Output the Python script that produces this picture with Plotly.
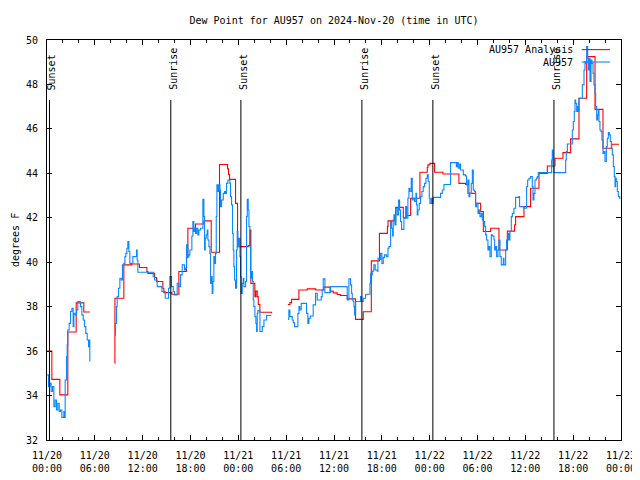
import pandas as pd
import plotly.graph_objects as go

BASE = pd.Timestamp("2024-11-20 00:00")

# ---- AU957 observations (hours after 11/20 00:00 UTC, dew point F), 3 segments ----
obs_h1 = [0.02, 0.19, 0.36, 0.52, 0.69, 0.86, 1.02, 1.19, 1.36, 1.53, 1.69, 1.86, 2.11, 2.20, 2.28,
          2.45, 2.53, 2.61, 2.78, 2.95, 3.12, 3.28, 3.37, 3.53, 3.70, 3.87, 4.04, 4.20, 4.37, 4.54,
          4.70, 4.87, 5.04, 5.21, 5.29, 5.37]
obs_v1 = [34.93, 34.40, 34.55, 34.18, 34.40, 33.50, 33.80, 33.35, 33.65, 33.28, 33.35, 33.02, 33.28, 33.02, 34.70,
          35.75, 36.28, 36.95, 37.25, 37.78, 37.93, 37.10, 37.70, 37.63, 37.85, 38.23, 38.23, 38.00, 37.63, 37.40,
          37.10, 36.80, 36.50, 36.20, 36.50, 35.53]

obs_h2 = [8.51, 8.59, 8.72, 8.80, 8.97, 9.14, 9.31, 9.47, 9.64, 9.77, 9.89, 10.02, 10.14, 10.27, 10.39,
          10.64, 10.77, 11.19, 11.23, 11.31, 11.40, 13.15, 13.32, 13.49, 13.66, 13.82, 14.32, 14.41, 14.74, 14.83,
          15.16, 15.24, 15.41,
          15.62, 15.83, 16.00, 16.25, 16.33, 16.54, 16.75, 16.96, 17.17, 17.25, 17.38, 17.50, 17.67, 17.80, 17.92,
          18.09, 18.17, 18.30, 18.42, 18.50, 18.63, 18.76, 18.92, 19.05, 19.26, 19.47, 19.55, 19.68, 19.76, 19.85,
          19.97, 20.10, 20.18, 20.31, 20.43, 20.52, 20.64, 20.72, 20.81, 20.93, 21.06, 21.14, 21.23, 21.31, 21.44,
          21.56, 21.69, 21.77, 21.90, 21.98, 22.11, 22.27, 22.40, 22.52, 22.69, 22.82, 22.94, 23.02, 23.15, 23.27,
          23.36, 23.44, 23.53, 23.65, 23.78, 23.86, 23.94, 24.07, 24.20, 24.28, 24.36, 24.49, 24.61, 24.70, 24.91,
          25.03, 25.12, 25.24, 25.33, 25.45, 25.53, 25.66, 25.78, 25.87, 25.95, 26.08, 26.20, 26.29, 26.37, 26.45,
          26.58, 26.71, 26.87, 27.00, 27.21, 27.54, 28.13]
obs_v2 = [36.73, 37.25, 38.00, 38.45, 38.83, 39.28, 39.20, 39.88, 39.95, 40.25, 40.40, 40.63, 40.93, 40.48, 39.95,
          39.95, 40.25, 40.25, 40.55, 40.10, 39.55, 39.55, 39.35, 39.20, 39.20, 38.90, 38.90, 38.68, 38.68, 38.38,
          38.38, 38.83, 39.35,
          38.90, 38.68, 38.53, 38.53, 39.05, 38.90, 39.43, 39.88, 39.88, 39.65, 39.73, 40.78, 40.25, 40.33, 40.55,
          40.55, 41.18, 41.83, 41.38, 41.53, 41.30, 41.53, 41.23, 41.45, 41.53, 41.53, 42.83, 42.05, 40.55, 41.08,
          41.23, 41.45, 41.00, 40.70, 40.40, 39.05, 39.35, 38.60, 39.13, 40.25, 39.95, 40.40, 42.05, 43.48, 43.18,
          43.48, 43.25, 42.50, 42.80, 42.80, 43.10, 43.18, 43.10, 43.55, 43.70, 43.70, 43.55, 42.95, 42.58, 41.30,
          40.55, 39.80, 39.20, 38.83, 40.55, 41.38, 40.70, 41.08, 40.25, 39.35, 38.60, 39.05, 39.28, 38.90, 39.13,
          42.05, 42.83, 42.35, 41.60, 40.70, 39.28, 39.58, 39.13, 38.30, 38.00, 37.55, 37.25, 36.88, 37.70, 37.82,
          37.82, 36.88, 36.88, 37.10, 37.40, 37.60, 37.60]

obs_h3 = [30.22, 30.34, 30.47, 30.76, 30.89, 31.05, 31.30, 31.47, 31.60, 31.72, 31.89, 32.43, 32.56, 32.72, 32.85,
          33.06, 33.39, 33.56, 33.69, 33.90, 34.23, 34.40, 34.52, 34.65, 34.86, 35.49, 35.57, 37.58, 37.66, 37.79,
          37.87, 38.08, 38.21, 38.29, 38.41, 38.50, 38.58, 38.71, 39.25, 39.33, 39.46, 39.67, 39.96, 40.38, 40.51,
          40.59, 40.71, 40.80, 40.92, 41.00, 41.17, 41.42, 41.51, 41.68, 41.85, 42.01, 42.18, 42.35, 42.60, 42.77,
          42.89,
          43.10, 43.22, 43.35, 43.43, 43.52, 43.64, 43.77, 43.94, 44.10, 44.23, 44.35, 44.48, 44.65, 44.77, 44.98,
          45.11, 45.27, 45.40, 45.52, 45.69, 45.82, 45.94, 46.11, 46.28, 46.36, 46.44, 46.53, 46.69, 46.86, 47.03,
          47.19, 47.36, 47.53, 47.70, 47.82, 47.95, 48.03, 48.20, 48.33, 48.45, 49.29, 49.37, 49.58, 49.79, 50.54,
          50.62, 51.25, 51.34, 51.46, 51.59, 51.76, 51.88, 52.09, 52.22, 52.51, 52.63, 52.80, 52.93, 53.05, 53.22,
          53.35, 53.47, 53.64, 53.76, 53.89, 54.06, 54.18, 54.31, 54.48, 54.60, 54.73, 54.90, 55.02, 55.14, 55.31,
          55.44, 55.56, 55.73, 55.86, 56.07, 56.15, 56.28, 56.40, 56.57, 56.69, 56.82, 56.98, 57.24, 57.32, 57.53,
          57.65, 57.82, 57.95, 58.07, 58.24, 58.37, 58.57, 58.78,
          59.20, 59.28, 59.83, 60.04, 60.16, 60.29, 60.46, 60.66, 60.87, 60.96, 61.08, 61.21, 61.38, 61.50, 61.63,
          63.30, 63.38, 63.47, 63.59, 65.06, 65.14, 65.27, 65.47, 65.89, 66.02, 66.14, 66.23, 66.31, 66.44, 66.56,
          66.65, 66.73, 66.94, 67.15, 67.36, 67.48, 67.57, 67.69, 67.82, 67.90, 67.98, 68.11, 68.24, 68.36, 68.49,
          68.61, 68.74, 68.82, 68.95, 69.07, 69.16, 69.24, 69.36, 69.49, 69.61, 69.74, 69.87, 69.99, 70.16, 70.28,
          70.41, 70.54, 70.66, 70.79, 70.91, 71.04, 71.16, 71.25, 71.33, 71.41, 71.54, 71.67, 71.83, 71.96]
obs_v3 = [37.43, 37.85, 37.55, 37.40, 37.28, 37.10, 37.10, 37.70, 38.00, 37.85, 38.15, 38.15, 37.70, 37.25, 37.48,
          37.58, 38.08, 38.08, 38.60, 38.30, 38.30, 38.45, 38.75, 39.25, 38.63, 38.63, 38.90, 38.90, 38.30, 38.30,
          39.25, 38.98, 38.60, 38.30, 38.23, 38.00, 37.63, 38.23, 38.23, 38.45, 38.23, 38.38, 38.56, 38.56, 39.05,
          39.50, 39.43, 39.58, 39.65, 39.88, 39.65, 39.60, 40.18, 40.13, 40.40, 39.95, 40.22, 40.33, 40.25, 40.63,
          40.70,
          41.83, 41.53, 41.18, 41.90, 42.13, 41.68, 42.43, 42.13, 42.80, 42.35, 41.83, 41.48, 41.48, 41.98, 42.50,
          41.98, 42.88, 43.33, 43.18, 43.78, 42.80, 42.88, 42.73, 43.10, 42.58, 42.13, 42.35, 42.65, 42.95, 43.18,
          43.40, 43.55, 43.78, 43.93, 43.63, 42.88, 42.65, 42.88, 42.65, 42.92, 42.92, 43.10, 43.25, 43.50, 43.50,
          44.48, 44.48, 44.30, 44.48, 44.23, 44.42, 44.15, 44.15, 43.93, 43.88, 43.48, 43.70, 42.95, 43.10, 43.55,
          44.15, 43.25, 43.18, 42.50, 42.65, 42.20, 42.35, 42.05, 42.20, 41.90, 41.83, 41.60, 41.23, 41.00, 40.55,
          40.70, 40.25, 41.23, 41.18, 41.00, 40.55, 40.70, 40.25, 40.55, 41.00, 40.25, 39.88, 40.18, 39.88, 40.55,
          41.00, 41.30, 41.00, 41.38, 42.05, 42.20, 42.43, 42.92,
          42.95, 42.50, 42.43, 42.43, 43.40, 43.70, 43.78, 43.85, 43.40, 42.80, 43.10, 43.70, 43.78, 43.85, 44.03,
          44.60, 45.05, 44.30, 44.03, 44.60, 44.98, 45.32, 45.32, 45.95, 46.33, 46.78, 47.30, 47.15, 46.78, 47.00,
          46.78, 47.38, 47.38, 47.98, 48.65, 49.03, 48.95, 49.70, 49.18, 48.65, 49.18, 48.13, 49.10, 48.95, 48.50,
          47.98, 47.60, 47.00, 46.40, 46.63, 46.85, 46.33, 45.95, 45.88, 45.50, 44.90, 44.98, 44.53, 45.20, 45.58,
          45.83, 45.73, 45.43, 45.13, 44.83, 44.30, 43.85, 43.40, 43.78, 43.63, 43.18, 42.95, 42.88, 42.88]

# ---- AU957 Analysis (hourly analysis), 3 segments ----
ana_h1 = [0.02, 0.61, 1.61, 2.61, 3.66, 4.62, 5.37]
ana_v1 = [36.00, 34.73, 34.03, 36.86, 38.17, 37.76, 37.76]

ana_h2 = [8.51, 8.52, 9.64, 10.64, 11.60, 12.53, 12.65, 13.49, 13.74, 14.53, 14.66, 15.66, 16.54, 17.50, 17.67,
          18.63, 19.68, 20.60, 21.64, 22.65, 22.77, 22.90, 23.65, 23.90, 25.24, 25.45, 25.57, 26.07, 26.20, 26.37,
          26.50, 26.70, 28.17]
ana_v2 = [35.45, 38.38, 39.88, 39.92, 39.76, 39.58, 39.50, 39.31, 39.13, 38.83, 38.63, 38.56, 39.58, 40.20, 41.53,
          41.72, 41.86, 40.45, 44.40, 44.20, 43.95, 43.73, 42.65, 40.70, 40.75, 41.45, 39.05, 38.45, 38.70, 38.45,
          38.10, 37.75, 37.70]

ana_h3 = [30.22, 30.47, 30.68, 31.60, 32.65, 33.69, 34.73, 35.50, 35.90, 36.40, 36.80, 37.66, 38.70, 39.67, 40.68,
          41.70, 42.70, 42.78, 43.73, 44.69, 44.98, 45.61, 46.78, 47.70, 47.78, 48.03, 48.62, 49.66, 51.67, 52.51,
          52.80, 53.76, 54.39, 54.73, 55.65, 56.69, 57.74, 58.66, 58.78, 59.83, 60.66, 61.71, 62.76, 63.72, 64.72,
          65.68, 66.73, 67.69, 68.74, 69.74, 70.83, 71.75]
ana_v3 = [38.10, 38.18, 38.33, 38.75, 38.80, 38.75, 38.88, 38.70, 38.62, 38.55, 38.50, 38.35, 37.43, 37.77, 40.06,
          41.30, 41.60, 41.86, 42.47, 42.00, 42.10, 42.88, 44.05, 44.26, 44.38, 44.45, 44.05, 43.97, 43.55, 43.50,
          43.10, 42.65, 42.28, 41.38, 41.53, 40.55, 41.40, 41.68, 42.05, 42.50, 43.33, 44.00, 44.33, 44.68, 44.93,
          45.55, 47.38, 49.25, 46.88, 45.13, 45.31, 45.31]

# ---- Sun events (hours after 11/20 00:00 UTC) ----
sun_h = [0.31, 15.53, 24.32, 39.50, 48.40, 63.59]
sun_lbl = ["Sunset", "Sunrise", "Sunset", "Sunrise", "Sunset", "Sunrise"]

TITLE = "Dew Point for AU957 on 2024-Nov-20 (time in UTC)"
FONT = "DejaVu Sans Mono"
RED = "#ff0000"
BLUE = "#0a88ff"

# the page body adds an 8px margin; size the figure so the whole chart fits the 640x480 window
W, H = 632, 472


def join(segs):
    xs, ys = [], []
    for h, v in segs:
        assert len(h) == len(v)
        if xs:
            xs.append(None)
            ys.append(None)
        xs.extend(BASE + pd.to_timedelta(x, unit="h") for x in h)
        ys.extend(v)
    return xs, ys


ax, ay = join([(ana_h1, ana_v1), (ana_h2, ana_v2), (ana_h3, ana_v3)])
ox, oy = join([(obs_h1, obs_v1), (obs_h2, obs_v2), (obs_h3, obs_v3)])

fig = go.Figure()
fig.add_trace(go.Scatter(x=ax, y=ay, mode="lines", line=dict(color=RED, width=1.1, shape="hv"),
                         connectgaps=False, name="AU957 Analysis", showlegend=False))
fig.add_trace(go.Scatter(x=ox, y=oy, mode="lines", line=dict(color=BLUE, width=1.1, shape="hv"),
                         connectgaps=False, name="AU957", showlegend=False))

shapes = []
annotations = []
for h, lbl in zip(sun_h, sun_lbl):
    t = BASE + pd.Timedelta(hours=h)
    shapes.append(dict(type="line", xref="x", yref="paper", x0=t, x1=t, y0=0, y1=0.85,
                       line=dict(color="black", width=1)))
    annotations.append(dict(x=t, xref="x", y=0.87, yref="paper", text=lbl, textangle=-90,
                            showarrow=False, xanchor="center", yanchor="bottom", xshift=2,
                            font=dict(family=FONT, size=10, color="black")))

# legend (gnuplot style: text then sample on the right)
for i, (name, col) in enumerate([("AU957 Analysis", RED), ("AU957", BLUE)]):
    yy = 0.976 - i * 0.031
    shapes.append(dict(type="line", xref="paper", yref="paper", x0=0.9315, x1=0.981, y0=yy, y1=yy,
                       line=dict(color=col, width=1.1)))
    annotations.append(dict(x=0.92, xref="paper", y=yy, yref="paper", text=name, showarrow=False,
                            xanchor="right", yanchor="middle",
                            font=dict(family=FONT, size=10, color="black")))

annotations.append(dict(x=0, xref="paper", xshift=-32, y=0.5, yref="paper", text="degrees F",
                        textangle=-90, showarrow=False, xanchor="center", yanchor="middle",
                        font=dict(family=FONT, size=10, color="black")))

fig.update_layout(
    width=W, height=H,
    margin=dict(l=39, r=19, t=32, b=40, autoexpand=False),
    paper_bgcolor="white", plot_bgcolor="white",
    font=dict(family=FONT, size=10, color="black"),
    title=dict(text=TITLE, x=0.5, xref="paper", y=1 - 12 / H, yref="container",
               xanchor="center", yanchor="middle", font=dict(family=FONT, size=10, color="black")),
    shapes=shapes, annotations=annotations, showlegend=False,
)
fig.update_xaxes(
    type="date", range=[BASE, BASE + pd.Timedelta(hours=72)], automargin=False,
    tickmode="linear", tick0=BASE, dtick=6 * 3600 * 1000, tickformat="%m/%d<br>%H:%M",
    ticks="inside", ticklen=5, tickcolor="black", showline=True, linecolor="black", linewidth=1,
    mirror="allticks", showgrid=False, zeroline=False, ticklabelstandoff=6,
    minor=dict(tickmode="linear", tick0=BASE, dtick=2 * 3600 * 1000, ticks="inside", ticklen=3,
               tickcolor="black", showgrid=False),
)
fig.update_yaxes(
    range=[32, 50], tickmode="linear", tick0=32, dtick=2, automargin=False,
    ticks="inside", ticklen=5, tickcolor="black", showline=True, linecolor="black", linewidth=1,
    mirror="allticks", showgrid=False, zeroline=False, ticklabelstandoff=6,
)

fig.write_html("out.html")
